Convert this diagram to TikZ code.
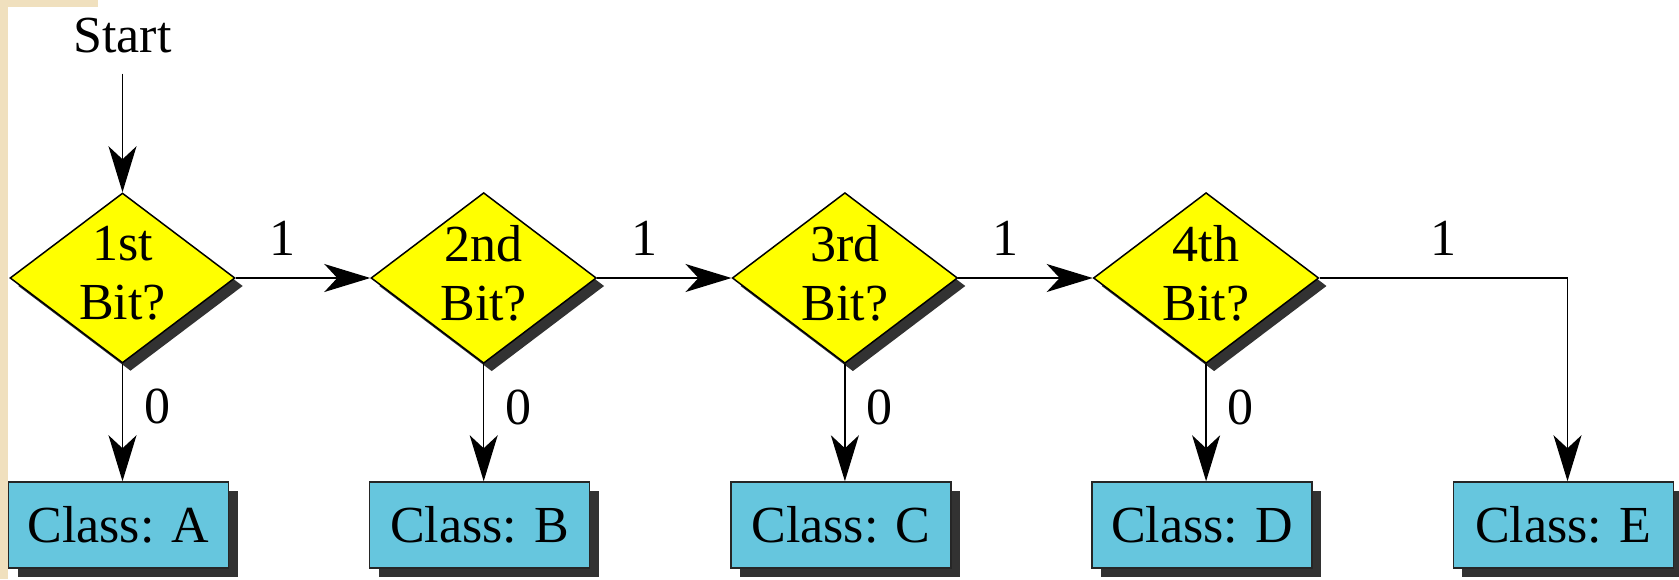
\documentclass[tikz,border=0pt]{standalone}
\usepackage{fontspec}
\setmainfont{Liberation Serif}
\usetikzlibrary{shapes.geometric,arrows.meta,shadows,calc}
\definecolor{diayel}{RGB}{255,255,0}
\definecolor{boxblue}{RGB}{102,198,222}
\definecolor{shad}{RGB}{50,50,50}
\definecolor{beige}{RGB}{240,224,190}
\begin{document}
\begin{tikzpicture}[x=1pt,y=-1pt,
  font=\fontsize{52}{59}\selectfont,
  decision/.style={diamond, aspect=1.32, inner sep=0pt,
    minimum width=225pt, minimum height=170pt,
    fill=diayel, draw=black, line width=1.5pt, align=center, text depth=10pt,
    general shadow={fill=shad, shadow xshift=8pt, shadow yshift=-8pt}},
  classbox/.style={rectangle, minimum width=220pt, minimum height=86pt, inner sep=0pt,
    fill=boxblue, draw=black!85, line width=1.5pt,
    general shadow={fill=shad, shadow xshift=9pt, shadow yshift=-9pt}},
  flow/.style={line width=1.5pt, -{Stealth[length=46pt,width=28pt,inset=13pt]}},
  lbl/.style={anchor=base, inner sep=0pt}]
\useasboundingbox (0,0) rectangle (1679,579);
\fill[beige] (0,0) rectangle (8,579);
\fill[beige] (0,0) rectangle (98,7);

\node[lbl] (start) at (122.5,52) {Start};

\node[decision] (d1) at (122.5,278) {1st\\Bit?};
\node[decision] (d2) at (483.7,278) {2nd\\Bit?};
\node[decision] (d3) at (844.9,278) {3rd\\Bit?};
\node[decision] (d4) at (1206.1,278) {4th\\Bit?};

\node[classbox] (cA) at (118.5,525) {Class: A};
\node[classbox] (cB) at (479.7,525) {Class: B};
\node[classbox] (cC) at (840.9,525) {Class: C};
\node[classbox] (cD) at (1202.1,525) {Class: D};
\node[classbox] (cE) at (1563.3,525) {Class: E};

\draw[flow, shorten <=21pt] (start.south) -- (d1.north);

\draw[flow] (d1.east) -- (d2.west);
\draw[flow] (d2.east) -- (d3.west);
\draw[flow] (d3.east) -- (d4.west);
\draw[flow] (d4.east) -| ([xshift=4.2pt]cE.north);

\draw[flow] (d1.south) -- (d1.south |- cA.north);
\draw[flow] (d2.south) -- (d2.south |- cB.north);
\draw[flow] (d3.south) -- (d3.south |- cC.north);
\draw[flow] (d4.south) -- (d4.south |- cD.north);

\node[lbl] (one1) at ($(d1.east)+(47,-23)$) {1};
\node[lbl] (one2) at ($(d2.east)+(47,-23)$) {1};
\node[lbl] (one3) at ($(d3.east)+(47,-23)$) {1};
\node[lbl] (one4) at ($(d4.east)+(124,-23)$) {1};

\node[lbl] (zero1) at ($(d1.south)+(34.5,60)$) {0};
\node[lbl] (zero2) at ($(d2.south)+(34.5,60)$) {0};
\node[lbl] (zero3) at ($(d3.south)+(34.5,60)$) {0};
\node[lbl] (zero4) at ($(d4.south)+(34.5,60)$) {0};
\end{tikzpicture}
\end{document}
